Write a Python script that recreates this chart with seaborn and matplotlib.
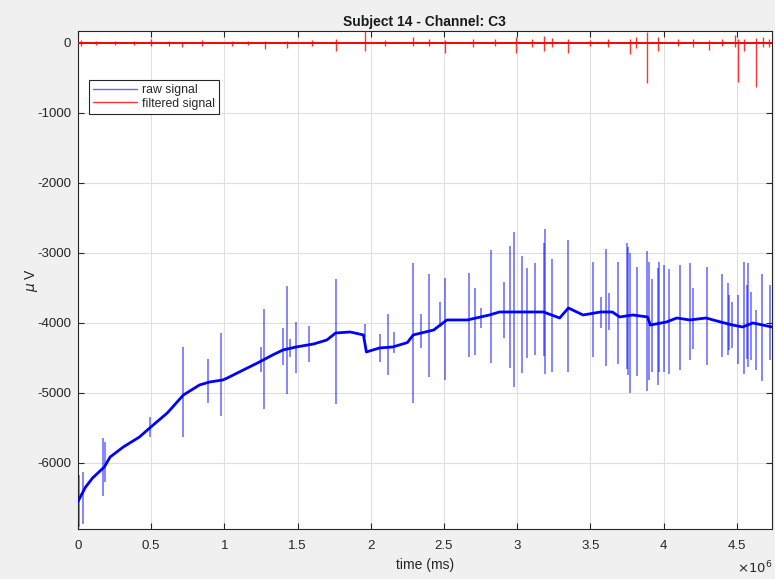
import numpy as np
import pandas as pd
import matplotlib
matplotlib.use("Agg")
import matplotlib.pyplot as plt
from matplotlib.lines import Line2D
import seaborn as sns

# raw signal baseline (time in ms, value in uV)
raw_t = [0.0, 0.05, 0.10, 0.18, 0.22, 0.31, 0.42, 0.49, 0.61, 0.72, 0.83, 0.90,
         0.99, 1.02, 1.13, 1.24, 1.33, 1.40, 1.49, 1.61, 1.70, 1.76, 1.86, 1.95,
         1.97, 2.06, 2.15, 2.25, 2.29, 2.43, 2.52, 2.66, 2.81, 2.88, 3.00, 3.18,
         3.29, 3.35, 3.45, 3.57, 3.65, 3.70, 3.79, 3.89, 3.91, 4.02, 4.09, 4.18,
         4.29, 4.39, 4.47, 4.54, 4.61, 4.74]
raw_v = [-6550, -6350, -6214, -6057, -5914, -5771, -5629, -5500, -5286, -5029,
         -4886, -4843, -4814, -4786, -4671, -4557, -4457, -4386, -4343, -4300,
         -4243, -4143, -4129, -4171, -4414, -4357, -4343, -4280, -4171, -4100,
         -3957, -3957, -3886, -3843, -3843, -3843, -3929, -3786, -3886, -3843,
         -3843, -3914, -3886, -3914, -4029, -3986, -3929, -3957, -3929, -3986,
         -4029, -4057, -4000, -4057]

# raw signal artefact spikes: time, top, bottom
spk_t = [0.007, 0.037, 0.173, 0.184, 0.49, 0.715, 0.89, 0.98, 1.25, 1.27, 1.40,
         1.43, 1.45, 1.49, 1.58, 1.76, 1.96, 2.06, 2.12, 2.16,
         2.29, 2.34, 2.40, 2.47, 2.51, 2.67, 2.71, 2.75, 2.82, 2.91, 2.95, 2.98,
         3.03, 3.07, 3.12, 3.18, 3.19, 3.24, 3.35, 3.52, 3.57, 3.61, 3.63, 3.69,
         3.75, 3.76, 3.77, 3.82, 3.89, 3.90, 3.92, 3.96, 3.97, 4.00, 4.04, 4.11,
         4.18, 4.20, 4.30, 4.40, 4.44, 4.45, 4.47, 4.51, 4.55, 4.57, 4.58, 4.60,
         4.63, 4.67, 4.73]
spk_top = [-6171, -6124, -5648, -5695, -5338, -4338, -4519, -4138, -4338, -3800,
           -4076, -3467, -4233, -3981, -4043, -3367, -4019, -4157, -3876, -4124,
           -3138, -3876, -3305, -3695, -3362, -3281, -3505, -3790, -2957, -3410,
           -2900, -2695, -3043, -3219, -3138, -2852, -2662, -3090, -2814, -3124,
           -3624, -2948, -3576, -3124, -2862, -2910, -3005, -3205, -2967, -3124,
           -3376, -3219, -3124, -3171, -3233, -3171, -3148, -3505, -3195, -3300,
           -3424, -3600, -3695, -3600, -3124, -3457, -3148, -3552, -3814, -3300,
           -3457]
spk_bot = [-6909, -6871, -6471, -6267, -5633, -5624, -5138, -5329, -4695, -5224,
           -4600, -5014, -4481, -4719, -4552, -5162, -4195, -4552, -4743, -4433,
           -5138, -4362, -4776, -4052, -4814, -4490, -4457, -4076, -4576, -4219,
           -4648, -4919, -4719, -4505, -4457, -4471, -4729, -4695, -4695, -4481,
           -4076, -4614, -4100, -4586, -4662, -4743, -4995, -4757, -4967, -4814,
           -4695, -4886, -4695, -4695, -4729, -4671, -4529, -4376, -4600, -4490,
           -4457, -4386, -4362, -4586, -4729, -4519, -4624, -4529, -4671, -4824,
           -4529]

# filtered signal: baseline and spikes
filt_t = [0.0, 4.74]
filt_v = [0, 0]
fspk_t = [0.02, 0.12, 0.25, 0.38, 0.50, 0.62, 0.71, 0.85, 1.05, 1.16, 1.28,
          1.43, 1.60, 1.76, 1.96, 2.10, 2.29, 2.40, 2.51, 2.70, 2.85, 2.99,
          3.10, 3.18, 3.24, 3.35, 3.50, 3.62, 3.77, 3.81, 3.89, 3.96, 4.10,
          4.20, 4.31, 4.40, 4.49, 4.51, 4.55, 4.63, 4.68, 4.72]
fspk_top = [40, 30, 35, 30, 50, 30, 20, 40, 30, 35, 25, 30, 40, 50, 170, 40, 90,
            50, 40, 60, 50, 90, 60, 95, 70, 50, 40, 60, 60, 80, 160, 80, 50, 50,
            40, 50, 110, 60, 60, 70, 80, 50]
fspk_bot = [-40, -30, -35, -30, -50, -40, -60, -40, -40, -35, -80, -70, -40,
            -120, -120, -40, -40, -50, -138, -60, -50, -138, -60, -110, -60,
            -138, -40, -60, -157, -70, -571, -110, -50, -60, -100, -50, -60,
            -552, -110, -633, -60, -60]

x_ticks = [0, 0.5, 1, 1.5, 2, 2.5, 3, 3.5, 4, 4.5]
y_ticks = [0, -1000, -2000, -3000, -4000, -5000, -6000]

scale = 1e6
raw = pd.DataFrame({"t": np.array(raw_t) * scale, "v": raw_v})
filt = pd.DataFrame({"t": np.array(filt_t) * scale, "v": filt_v})

sns.set_style("whitegrid")
plt.rcParams["font.family"] = ["Liberation Sans", "DejaVu Sans"]
plt.rcParams["mathtext.fontset"] = "dejavusans"

fig = plt.figure(figsize=(7.75, 5.79), dpi=100, facecolor="#f0f0f0")
ax = fig.add_axes([0.1006, 0.0864, 0.8954, 0.8592])
ax.set_facecolor("white")

blue = (0, 0, 1)
red = (1, 0, 0)

ax.vlines(np.array(spk_t) * scale, spk_bot, spk_top, color=blue, lw=1.1, alpha=0.6, zorder=2)
sns.lineplot(data=raw, x="t", y="v", ax=ax, color=blue, lw=2.0, zorder=3)
ax.vlines(np.array(fspk_t) * scale, fspk_bot, fspk_top, color=red, lw=1.0, alpha=0.8, zorder=3)
sns.lineplot(data=filt, x="t", y="v", ax=ax, color=red, lw=1.4, zorder=4)

ax.set_xlim(0, 4.74e6)
ax.set_ylim(-6943, 164)
ax.set_xticks(np.array(x_ticks) * scale)
ax.set_xticklabels([f"{v:g}" for v in x_ticks])
ax.set_yticks(y_ticks)
ax.set_yticklabels([str(v) for v in y_ticks])

ax.grid(True, color="#dfdfdf", lw=0.8)
for s in ax.spines.values():
    s.set_color("#262626")
    s.set_linewidth(0.8)
ax.tick_params(direction="in", length=4, colors="#262626", labelsize=9.5,
               top=True, right=True, bottom=True, left=True)
ax.tick_params(axis="x", pad=8)
ax.tick_params(axis="y", pad=5)

ax.set_title("Subject 14 - Channel: C3", fontsize=10, fontweight="bold", color="#1a1a1a", pad=4)
ax.set_xlabel("time (ms)", fontsize=10, color="#262626", labelpad=4)
ax.set_ylabel("$\\mu$ V", fontsize=10, color="#262626", labelpad=-2)
fig.text(0.997, 0.019, "$\\times10^{6}$", ha="right", va="center", fontsize=9.5, color="#262626")

handles = [Line2D([], [], color=blue, lw=1.0, alpha=0.6),
           Line2D([], [], color=red, lw=1.0, alpha=0.8)]
leg = ax.legend(handles, ["raw signal", "filtered signal"], loc="upper left",
                bbox_to_anchor=(0.0159, 0.9025), fontsize=8.8,
                frameon=True, fancybox=False, framealpha=1, edgecolor="#262626",
                borderpad=0.35, borderaxespad=0, handlelength=3.6, handletextpad=0.35,
                labelspacing=0.1)
leg.get_frame().set_linewidth(0.8)

fig.savefig("out.png", dpi=100, facecolor=fig.get_facecolor())
